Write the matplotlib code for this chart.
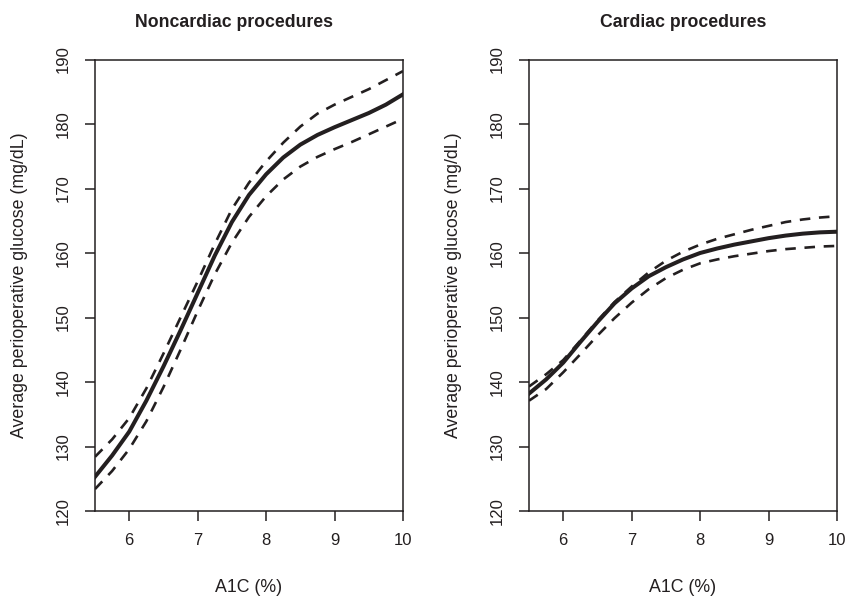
import numpy as np
import matplotlib
matplotlib.use("Agg")
import matplotlib.pyplot as plt

plt.rcParams['font.family'] = ['Liberation Sans', 'DejaVu Sans']

# A1C grid (%) and curves
a1c = [5.5, 5.75, 6.0, 6.25, 6.5, 6.75, 7.0, 7.25, 7.5, 7.75,
       8.0, 8.25, 8.5, 8.75, 9.0, 9.25, 9.5, 9.75, 10.0]

# Noncardiac procedures: fit and confidence band
nonc_fit = [125.3, 128.6, 132.3, 137.1, 142.4, 148.0, 153.8, 159.6, 164.8, 169.0,
            172.2, 174.8, 176.8, 178.3, 179.5, 180.6, 181.7, 183.0, 184.6]
nonc_upper = [128.4, 131.1, 134.4, 139.0, 144.4, 150.0, 155.6, 161.4, 166.8, 170.9,
              174.2, 177.1, 179.6, 181.6, 183.0, 184.2, 185.4, 186.8, 188.2]
nonc_lower = [123.4, 126.2, 129.6, 133.9, 139.2, 145.0, 151.0, 156.7, 161.6, 165.6,
              168.8, 171.4, 173.4, 174.9, 176.1, 177.2, 178.4, 179.6, 180.8]

# Cardiac procedures
card_fit = [138.2, 140.4, 143.0, 146.2, 149.3, 152.2, 154.5, 156.4, 157.8, 159.0,
            160.0, 160.7, 161.3, 161.8, 162.3, 162.7, 163.0, 163.2, 163.3]
card_upper = [139.3, 141.2, 143.4, 146.4, 149.5, 152.4, 154.8, 157.0, 158.8, 160.2,
              161.3, 162.2, 162.9, 163.6, 164.2, 164.8, 165.2, 165.5, 165.7]
card_lower = [137.1, 138.9, 141.5, 144.3, 147.2, 149.9, 152.3, 154.4, 156.1, 157.4,
              158.4, 159.0, 159.5, 159.9, 160.3, 160.6, 160.8, 161.0, 161.1]

titles = ["Noncardiac procedures", "Cardiac procedures"]
xticks = [6, 7, 8, 9, 10]
yticks = [120, 130, 140, 150, 160, 170, 180, 190]

W, H = 849, 597
ink = '#231f20'

fig = plt.figure(figsize=(W / 100, H / 100), dpi=100)

# axes boxes in pixels: (left, right), plus title centre
boxes = [(95, 403), (529, 837)]
title_x = [234, 683]
top_px, bot_px = 59.5, 511

panels = [(nonc_fit, nonc_upper, nonc_lower), (card_fit, card_upper, card_lower)]

for i, (l, r) in enumerate(boxes):
    ax = fig.add_axes([l / W, 1 - bot_px / H, (r - l) / W, (bot_px - top_px) / H])
    fit, up, lo = panels[i]
    ax.plot(a1c, fit, color=ink, lw=2.9, solid_joinstyle='round')
    ax.plot(a1c, up, color=ink, lw=1.9, dashes=(4, 3.3))
    ax.plot(a1c, lo, color=ink, lw=1.9, dashes=(4, 3.3))

    ax.set_xlim(5.5, 10)
    ax.set_ylim(120, 190)
    ax.set_xticks(xticks)
    ax.set_yticks(yticks)
    ax.tick_params(direction='out', length=7.2, width=1.1, color=ink,
                   labelsize=12, labelcolor=ink)
    ax.tick_params(axis='x', pad=8.5)
    ax.tick_params(axis='y', pad=10, labelrotation=90)
    for lab in ax.get_yticklabels():
        lab.set_va('center')
    for sp in ax.spines.values():
        sp.set_linewidth(1.1)
        sp.set_color(ink)

    cx = (l + r) / 2
    fig.text(title_x[i] / W, 1 - 27.3 / H, titles[i], ha='center', va='baseline',
             fontsize=12.7, fontweight='bold', color=ink)
    fig.text(cx / W, 1 - 587 / H, "A1C (%)", ha='center', va='center',
             fontsize=12.8, color=ink)
    fig.text((l - 75) / W, 1 - 285 / H, "Average perioperative glucose (mg/dL)",
             ha='center', va='center', rotation=90, fontsize=12.8, color=ink)

fig.savefig("out.png", dpi=100)
